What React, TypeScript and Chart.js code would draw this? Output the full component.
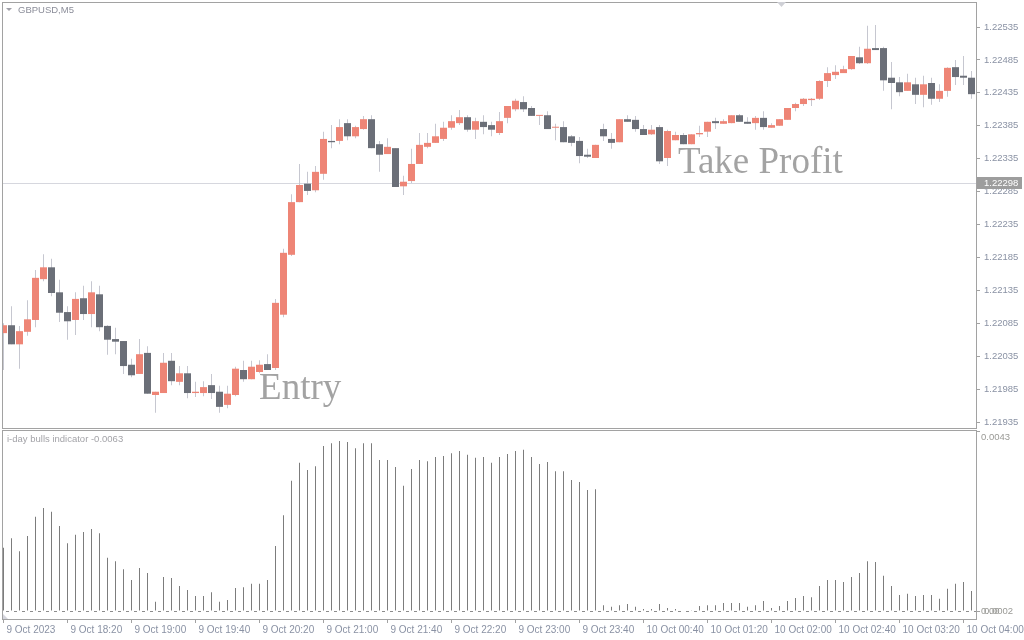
import React, { useEffect, useRef } from 'react';
import { Chart, registerables } from 'chart.js';

Chart.register(...registerables);

// ---------- DATA ----------
const opens = [
  1.22070, 1.22082, 1.22053, 1.22072, 1.22090, 1.22152, 1.22170, 1.22132, 1.22102, 1.22090,
  1.22123, 1.22099, 1.22129, 1.22081, 1.22061, 1.22058, 1.22022, 1.22008, 1.22040, 1.21976,
  1.21979, 1.22028, 1.21996, 1.22009, 1.21979, 1.21979, 1.21991, 1.21981, 1.21961, 1.21976,
  1.22014, 1.22000, 1.22011, 1.22023, 1.22017, 1.22098, 1.22189, 1.22269, 1.22297, 1.22287,
  1.22312, 1.22362, 1.22362, 1.22389, 1.22369, 1.22380, 1.22395, 1.22357, 1.22342, 1.22351,
  1.22293, 1.22301, 1.22327, 1.22353, 1.22359, 1.22365, 1.22382, 1.22389, 1.22398, 1.22379,
  1.22391, 1.22386, 1.22374, 1.22397, 1.22410, 1.22421, 1.22412, 1.22400, 1.22401, 1.22382,
  1.22383, 1.22369, 1.22362, 1.22341, 1.22336, 1.22380, 1.22365, 1.22360, 1.22395, 1.22394,
  1.22380, 1.22372, 1.22383, 1.22336, 1.22363, 1.22371, 1.22357, 1.22372, 1.22376, 1.22392,
  1.22388, 1.22389, 1.22401, 1.22391, 1.22389, 1.22397, 1.22382, 1.22385, 1.22394, 1.22412,
  1.22418, 1.22424, 1.22426, 1.22453, 1.22462, 1.22465, 1.22471, 1.22489, 1.22480, 1.22503,
  1.22503, 1.22458, 1.22451, 1.22438, 1.22448, 1.22432, 1.22450, 1.22426, 1.22438, 1.22474,
  1.22461, 1.22458,
];
const highs = [
  1.22085, 1.22111, 1.22081, 1.22120, 1.22166, 1.22190, 1.22183, 1.22151, 1.22111, 1.22132,
  1.22142, 1.22149, 1.22142, 1.22082, 1.22078, 1.22058, 1.22031, 1.22061, 1.22050, 1.21981,
  1.22040, 1.22040, 1.22020, 1.22020, 1.21996, 1.21997, 1.22008, 1.21990, 1.21990, 1.22019,
  1.22028, 1.22028, 1.22029, 1.22038, 1.22122, 1.22198, 1.22281, 1.22327, 1.22315, 1.22324,
  1.22376, 1.22386, 1.22395, 1.22395, 1.22385, 1.22400, 1.22401, 1.22362, 1.22366, 1.22351,
  1.22309, 1.22350, 1.22374, 1.22374, 1.22388, 1.22391, 1.22401, 1.22409, 1.22401, 1.22397,
  1.22401, 1.22391, 1.22406, 1.22415, 1.22426, 1.22430, 1.22415, 1.22401, 1.22407, 1.22388,
  1.22392, 1.22371, 1.22368, 1.22350, 1.22356, 1.22388, 1.22374, 1.22395, 1.22401, 1.22400,
  1.22386, 1.22386, 1.22386, 1.22379, 1.22376, 1.22374, 1.22372, 1.22385, 1.22391, 1.22397,
  1.22395, 1.22401, 1.22403, 1.22398, 1.22400, 1.22407, 1.22389, 1.22395, 1.22412, 1.22420,
  1.22427, 1.22427, 1.22454, 1.22474, 1.22477, 1.22476, 1.22491, 1.22505, 1.22537, 1.22538,
  1.22505, 1.22482, 1.22459, 1.22464, 1.22458, 1.22461, 1.22458, 1.22448, 1.22474, 1.22485,
  1.22491, 1.22468,
];
const lows = [
  1.22014, 1.22053, 1.22016, 1.22066, 1.22079, 1.22149, 1.22126, 1.22087, 1.22060, 1.22067,
  1.22090, 1.22079, 1.22073, 1.22037, 1.22038, 1.22008, 1.22003, 1.22008, 1.21978, 1.21949,
  1.21979, 1.21991, 1.21991, 1.21971, 1.21973, 1.21974, 1.21970, 1.21949, 1.21956, 1.21974,
  1.21996, 1.22000, 1.22009, 1.22014, 1.22014, 1.22094, 1.22187, 1.22269, 1.22280, 1.22284,
  1.22303, 1.22351, 1.22357, 1.22363, 1.22366, 1.22379, 1.22351, 1.22315, 1.22342, 1.22292,
  1.22280, 1.22298, 1.22327, 1.22351, 1.22359, 1.22362, 1.22379, 1.22386, 1.22376, 1.22365,
  1.22372, 1.22369, 1.22371, 1.22389, 1.22407, 1.22406, 1.22400, 1.22386, 1.22380, 1.22363,
  1.22360, 1.22354, 1.22328, 1.22336, 1.22336, 1.22362, 1.22350, 1.22360, 1.22391, 1.22376,
  1.22371, 1.22371, 1.22327, 1.22324, 1.22363, 1.22357, 1.22357, 1.22368, 1.22368, 1.22380,
  1.22388, 1.22389, 1.22391, 1.22388, 1.22379, 1.22379, 1.22382, 1.22385, 1.22394, 1.22407,
  1.22415, 1.22415, 1.22424, 1.22444, 1.22456, 1.22465, 1.22470, 1.22479, 1.22479, 1.22500,
  1.22438, 1.22410, 1.22430, 1.22438, 1.22418, 1.22413, 1.22417, 1.22421, 1.22429, 1.22447,
  1.22447, 1.22426,
];
const closes = [
  1.22082, 1.22053, 1.22073, 1.22091, 1.22154, 1.22170, 1.22131, 1.22101, 1.22088, 1.22122,
  1.22099, 1.22132, 1.22079, 1.22060, 1.22057, 1.22020, 1.22006, 1.22038, 1.21978, 1.21981,
  1.22025, 1.21997, 1.22009, 1.21979, 1.21981, 1.21988, 1.21979, 1.21958, 1.21978, 1.22016,
  1.22000, 1.22019, 1.22022, 1.22014, 1.22116, 1.22192, 1.22269, 1.22295, 1.22286, 1.22315,
  1.22365, 1.22360, 1.22383, 1.22369, 1.22383, 1.22395, 1.22351, 1.22341, 1.22353, 1.22292,
  1.22300, 1.22327, 1.22356, 1.22359, 1.22369, 1.22382, 1.22392, 1.22398, 1.22379, 1.22392,
  1.22383, 1.22379, 1.22392, 1.22415, 1.22423, 1.22410, 1.22400, 1.22401, 1.22380, 1.22383,
  1.22360, 1.22359, 1.22339, 1.22338, 1.22356, 1.22369, 1.22359, 1.22395, 1.22391, 1.22380,
  1.22371, 1.22379, 1.22331, 1.22377, 1.22371, 1.22357, 1.22372, 1.22374, 1.22391, 1.22389,
  1.22392, 1.22401, 1.22391, 1.22388, 1.22397, 1.22383, 1.22386, 1.22395, 1.22412, 1.22418,
  1.22426, 1.22426, 1.22453, 1.22465, 1.22467, 1.22471, 1.22491, 1.22480, 1.22502, 1.22500,
  1.22454, 1.22450, 1.22436, 1.22451, 1.22432, 1.22448, 1.22426, 1.22438, 1.22473, 1.22459,
  1.22458, 1.22433,
];
const bullsValues = [
  0.00151, 0.00174, 0.00143, 0.00179, 0.00225, 0.00246, 0.00237, 0.00203, 0.00162, 0.00182,
  0.00189, 0.00196, 0.00186, 0.00127, 0.00119, 0.00100, 0.00074, 0.00103, 0.00091, 0.00022,
  0.00081, 0.00079, 0.00060, 0.00050, 0.00036, 0.00036, 0.00045, 0.00022, 0.00026, 0.00055,
  0.00057, 0.00065, 0.00065, 0.00074, 0.00155, 0.00229, 0.00311, 0.00354, 0.00337, 0.00346,
  0.00394, 0.00401, 0.00406, 0.00404, 0.00389, 0.00401, 0.00401, 0.00361, 0.00361, 0.00344,
  0.00299, 0.00339, 0.00361, 0.00358, 0.00368, 0.00370, 0.00377, 0.00382, 0.00373, 0.00366,
  0.00368, 0.00354, 0.00368, 0.00375, 0.00382, 0.00385, 0.00368, 0.00351, 0.00356, 0.00334,
  0.00334, 0.00313, 0.00308, 0.00289, 0.00291, 0.00014, 0.00010, 0.00014, 0.00017, 0.00010,
  0.00005, 0.00005, 0.00017, 0.00007, 0.00005, 0.00000, 0.00002, 0.00012, 0.00014, 0.00014,
  0.00019, 0.00019, 0.00019, 0.00010, 0.00014, 0.00024, 0.00007, 0.00012, 0.00024, 0.00031,
  0.00036, 0.00033, 0.00060, 0.00074, 0.00074, 0.00069, 0.00081, 0.00091, 0.00119, 0.00117,
  0.00084, 0.00060, 0.00038, 0.00041, 0.00036, 0.00038, 0.00038, 0.00029, 0.00053, 0.00065,
  0.00069, 0.00048,
];
const priceTicks = [
  1.21935, 1.21985, 1.22035, 1.22085, 1.22135, 1.22185, 1.22235,
  1.22285, 1.22335, 1.22385, 1.22435, 1.22485, 1.22535,
];
const timeTicks = [0, 8, 16, 24, 32, 40, 48, 56, 64, 72, 80, 88, 96, 104, 112, 120];
const timeLabels = [
  '9 Oct 2023', '9 Oct 18:20', '9 Oct 19:00', '9 Oct 19:40', '9 Oct 20:20', '9 Oct 21:00',
  '9 Oct 21:40', '9 Oct 22:20', '9 Oct 23:00', '9 Oct 23:40', '10 Oct 00:40', '10 Oct 01:20',
  '10 Oct 02:00', '10 Oct 02:40', '10 Oct 03:20', '10 Oct 04:00',
];
const currentPrice = 1.22298;
const indicatorTicks = [0.0043, 0];
const annotations = [
  { text: 'Entry', x: 31.95, y: 1.2197 },
  { text: 'Take Profit', x: 84.3, y: 1.22313 },
];

// ---------- STYLE ----------
const X_MIN = -0.1875;
const X_MAX = X_MIN + 974 / 8;
const P_MIN = 1.219259;
const P_MAX = 1.22573;
const I_MIN = -0.000191;
const I_MAX = 0.0043;
const BULL = '#ee8576';
const BEAR = '#6b6f78';
const WICK = '#c6c7d0';
const FRAME = '#a2a2a2';
const LABEL = '#8a92a4';
const FONT = "'Liberation Sans', Arial, sans-serif";

const mainDecor = {
  id: 'mainDecor',
  beforeDatasetsDraw(chart: any) {
    const { ctx, chartArea, scales } = chart;
    const y = Math.round(scales.y.getPixelForValue(currentPrice)) + 0.5;
    ctx.save();
    ctx.strokeStyle = '#d6d7de';
    ctx.lineWidth = 1;
    ctx.beginPath();
    ctx.moveTo(chartArea.left, y);
    ctx.lineTo(chartArea.right, y);
    ctx.stroke();
    ctx.restore();
  },
  afterDatasetsDraw(chart: any) {
    const { ctx, scales } = chart;
    ctx.save();
    ctx.fillStyle = '#a3a3a3';
    ctx.font = "37px 'Liberation Serif', serif";
    ctx.textBaseline = 'alphabetic';
    ctx.textAlign = 'left';
    annotations.forEach((a) => {
      ctx.fillText(a.text, scales.x.getPixelForValue(a.x), scales.y.getPixelForValue(a.y));
    });
    ctx.restore();
  },
  afterDraw(chart: any) {
    const { ctx, chartArea, scales } = chart;
    ctx.save();
    ctx.strokeStyle = FRAME;
    ctx.lineWidth = 1;
    ctx.strokeRect(chartArea.left + 0.5, chartArea.top + 0.5, chartArea.right - chartArea.left, chartArea.bottom - chartArea.top);
    // current price box
    const y = Math.round(scales.y.getPixelForValue(currentPrice));
    ctx.fillStyle = '#9d9d9d';
    ctx.fillRect(chartArea.right + 1, y - 6, 45, 12);
    ctx.fillStyle = '#ffffff';
    ctx.font = `9.5px ${FONT}`;
    ctx.textBaseline = 'middle';
    ctx.textAlign = 'left';
    ctx.fillText(currentPrice.toFixed(5), chartArea.right + 8, y + 0.5);
    // title
    ctx.fillStyle = '#8b8d99';
    ctx.fillText('GBPUSD,M5', 18, 10);
    ctx.fillStyle = '#a0a0a8';
    ctx.beginPath();
    ctx.moveTo(6, 8);
    ctx.lineTo(12, 8);
    ctx.lineTo(9, 11);
    ctx.closePath();
    ctx.fill();
    // shift marker
    ctx.fillStyle = '#cfd0d6';
    ctx.beginPath();
    ctx.moveTo(777, 2);
    ctx.lineTo(786, 2);
    ctx.lineTo(781.5, 7);
    ctx.closePath();
    ctx.fill();
    ctx.restore();
  },
};

const indDecor = {
  id: 'indDecor',
  beforeDatasetsDraw(chart: any) {
    const { ctx, chartArea, scales } = chart;
    const y = Math.round(scales.y.getPixelForValue(0)) + 0.5;
    ctx.save();
    ctx.strokeStyle = '#8c8c8c';
    ctx.lineWidth = 1;
    ctx.setLineDash([3, 5]);
    ctx.lineDashOffset = -4;
    ctx.beginPath();
    ctx.moveTo(chartArea.left, y);
    ctx.lineTo(chartArea.right, y);
    ctx.stroke();
    ctx.restore();
  },
  afterDraw(chart: any) {
    const { ctx, chartArea, scales } = chart;
    ctx.save();
    ctx.strokeStyle = FRAME;
    ctx.lineWidth = 1;
    ctx.strokeRect(chartArea.left + 0.5, 2.5, chartArea.right - chartArea.left, chartArea.bottom - 2);
    ctx.font = `9.5px ${FONT}`;
    ctx.textBaseline = 'middle';
    ctx.textAlign = 'left';
    ctx.fillStyle = '#a3a3a8';
    ctx.fillText('i-day bulls indicator -0.0063', 7, 11);
    ctx.fillStyle = '#9a9a96';
    const yTop = scales.y.getPixelForValue(indicatorTicks[0]);
    ctx.fillText(indicatorTicks[0].toFixed(4), chartArea.right + 5, yTop + 6);
    const y0 = scales.y.getPixelForValue(indicatorTicks[1]);
    ctx.fillText('0.0002', chartArea.right + 8, y0);
    ctx.fillText('0.00', chartArea.right + 5, y0);
    ctx.fillStyle = '#d4d4dc';
    ctx.beginPath();
    ctx.moveTo(3, chartArea.bottom - 5);
    ctx.lineTo(3, chartArea.bottom);
    ctx.lineTo(8, chartArea.bottom);
    ctx.closePath();
    ctx.fill();
    ctx.restore();
  },
};

export default function App() {
  const mainRef = useRef<HTMLCanvasElement>(null);
  const indRef = useRef<HTMLCanvasElement>(null);

  useEffect(() => {
    Chart.defaults.font.family = FONT;
    const wickData = lows.map((l, i) => ({ x: i, y: [l, highs[i]] }));
    const bodyData = opens.map((o, i) => ({ x: i, y: [o, closes[i]] }));
    const bodyColors = opens.map((o, i) => (closes[i] >= o ? BULL : BEAR));

    const main = new Chart(mainRef.current as HTMLCanvasElement, {
      type: 'bar',
      data: {
        datasets: [
          {
            data: wickData as any,
            backgroundColor: WICK,
            barThickness: 1,
            grouped: false,
            order: 2,
            borderWidth: 0,
            inflateAmount: 0,
          } as any,
          {
            data: bodyData as any,
            backgroundColor: bodyColors,
            barThickness: 7,
            grouped: false,
            order: 1,
            borderWidth: 0,
            inflateAmount: 0,
            minBarLength: 1,
          } as any,
        ],
      },
      options: {
        animation: false,
        responsive: false,
        maintainAspectRatio: false,
        devicePixelRatio: 1,
        layout: { padding: { left: 2, top: 2, right: 0, bottom: 2 } },
        plugins: { legend: { display: false }, tooltip: { enabled: false } },
        scales: {
          x: {
            type: 'linear',
            display: false,
            min: X_MIN,
            max: X_MAX,
            offset: false,
            grid: { offset: false },
          },
          y: {
            type: 'linear',
            position: 'right',
            min: P_MIN,
            max: P_MAX,
            afterBuildTicks: (s: any) => {
              s.ticks = priceTicks.map((v) => ({ value: v }));
            },
            afterFit: (s: any) => {
              s.width = 48;
              s.paddingTop = 0;
              s.paddingBottom = 0;
            },
            ticks: {
              padding: 4,
              color: LABEL,
              font: { family: FONT, size: 9.5 },
              callback: (v: any) => Number(v).toFixed(5),
            },
            grid: { drawOnChartArea: false, tickLength: 4, color: FRAME },
            border: { display: true, color: FRAME },
          },
        },
      } as any,
      plugins: [mainDecor],
    });

    const ind = new Chart(indRef.current as HTMLCanvasElement, {
      type: 'bar',
      data: {
        datasets: [
          {
            data: bullsValues.map((v, i) => ({ x: i, y: v })) as any,
            backgroundColor: '#7c7c7c',
            barThickness: 1,
            grouped: false,
            borderWidth: 0,
            inflateAmount: 0,
          } as any,
        ],
      },
      options: {
        animation: false,
        responsive: false,
        maintainAspectRatio: false,
        devicePixelRatio: 1,
        layout: { padding: { left: 2, top: 3, right: 0, bottom: 0 } },
        plugins: { legend: { display: false }, tooltip: { enabled: false } },
        scales: {
          x: {
            type: 'linear',
            position: 'bottom',
            min: X_MIN,
            max: X_MAX,
            offset: false,
            afterBuildTicks: (s: any) => {
              s.ticks = timeTicks.map((v) => ({ value: v }));
            },
            afterFit: (s: any) => {
              s.height = 21;
              s.paddingLeft = 0;
              s.paddingRight = 0;
            },
            ticks: {
              autoSkip: false,
              maxRotation: 0,
              minRotation: 0,
              align: 'start',
              labelOffset: 3,
              padding: 1,
              color: LABEL,
              font: { family: FONT, size: 10 },
              callback: (_v: any, idx: number) => timeLabels[idx],
            },
            grid: { drawOnChartArea: false, tickLength: 4, color: FRAME, offset: false },
            border: { display: true, color: FRAME },
          },
          y: {
            type: 'linear',
            position: 'right',
            min: I_MIN,
            max: I_MAX,
            afterBuildTicks: (s: any) => {
              s.ticks = indicatorTicks.map((v) => ({ value: v }));
            },
            afterFit: (s: any) => {
              s.width = 48;
              s.paddingTop = 0;
              s.paddingBottom = 0;
            },
            ticks: { callback: () => '', padding: 0 },
            grid: { drawOnChartArea: false, tickLength: 4, color: FRAME },
            border: { display: true, color: FRAME },
          },
        },
      } as any,
      plugins: [indDecor],
    });

    return () => {
      main.destroy();
      ind.destroy();
    };
  }, []);

  return (
    <div
      style={{
        position: 'fixed',
        left: 0,
        top: 0,
        width: 1024,
        height: 640,
        background: '#ffffff',
        overflow: 'hidden',
      }}
    >
      <canvas
        ref={mainRef}
        width={1024}
        height={430}
        style={{ position: 'absolute', left: 0, top: 0, width: 1024, height: 430 }}
      />
      <canvas
        ref={indRef}
        width={1024}
        height={212}
        style={{ position: 'absolute', left: 0, top: 428, width: 1024, height: 212 }}
      />
    </div>
  );
}
